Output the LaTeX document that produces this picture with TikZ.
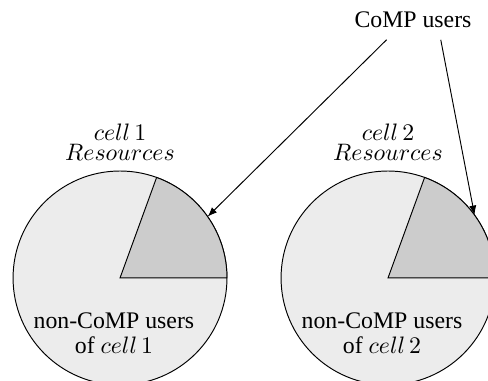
\documentclass[tikz,border=0pt]{standalone}
\usepackage[no-math]{fontspec}
\setmainfont{Liberation Serif}
\usepackage{amsmath}
\usepackage{tikz}
\usetikzlibrary{positioning,arrows.meta}

\begin{document}
\begin{tikzpicture}[
        cellres/.style={circle,draw,fill=gray!15,minimum size=3.16cm,inner sep=0pt,outer sep=0pt},
        lbl/.style={align=center,inner sep=1pt},
        pointer/.style={-{Latex[length=4pt,width=3pt]}}
    ]
            \useasboundingbox (-1.773,-1.521) rectangle (5.436,4.106);
            \node[cellres] (cellA) at (0,0) {};
            \node[cellres] (cellB) at (3.959,0) {};
            \filldraw[fill=gray!40] (cellA.center) -- (cellA.0) arc (0:70:1.58) -- cycle;
            \filldraw[fill=gray!40] (cellB.center) -- (cellB.0) arc (0:70:1.58) -- cycle;
            \node[lbl] (resA) at (0,2.0) {$cell\,1$\\[-3.5pt]$Resources$};
            \node[lbl] (resB) at (3.959,2.0) {$cell\,2$\\[-3.5pt]$Resources$};
            \node[lbl] (ncA) at (-0.09,-0.81) {non-CoMP users\\[-1.5pt]of $cell\,1$};
            \node[lbl] (ncB) at (3.87,-0.81) {non-CoMP users\\[-1.5pt]of $cell\,2$};
            \node (comp) at (4.328,3.811) {CoMP users};
            \coordinate[below left=0.05 and 0.39 of comp.south] (fromA);
            \coordinate[below right=0.05 and 0.41 of comp.south] (fromB);
            \draw[pointer] (fromA) -- (cellA.35);
            \draw[pointer] (fromB) -- (cellB.36);
        \end{tikzpicture}
\end{document}
